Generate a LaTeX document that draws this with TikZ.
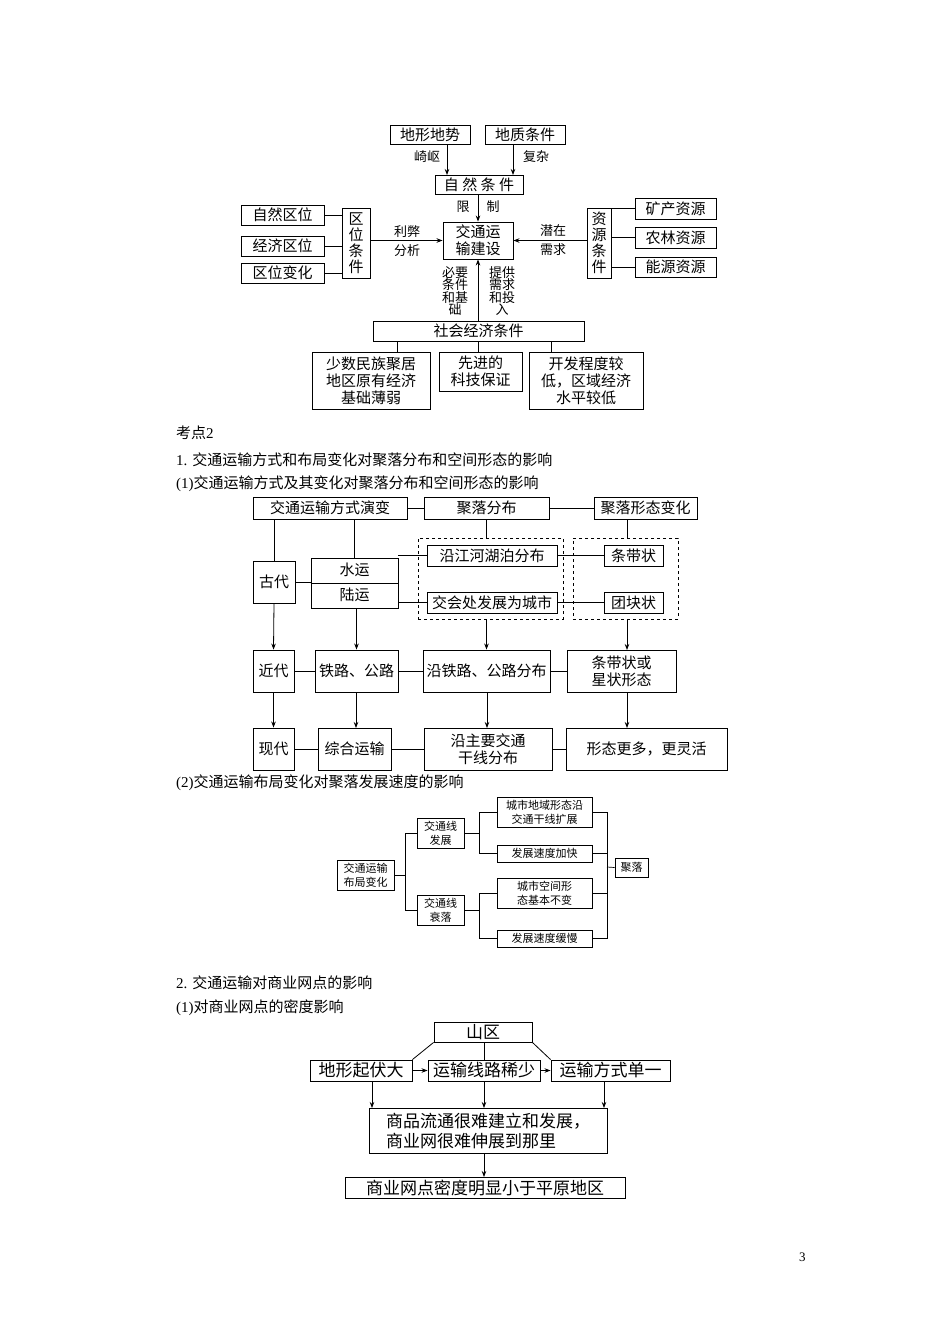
\documentclass[tikz,border=0pt]{standalone}
\usepackage{fontspec}
\setmainfont{Noto Sans CJK SC}
\newfontfamily\lat{Liberation Serif}
\usetikzlibrary{arrows.meta}
\tikzset{
  bx/.style={draw,line width=0.9pt,inner sep=0pt,align=center},
  dbox/.style={draw,dashed,line width=0.8pt,inner sep=0pt},
  ln/.style={line width=0.8pt},
  ar/.style={line width=0.8pt,-{Stealth[length=6pt,width=4.5pt]}},
  lbl/.style={inner sep=0pt,align=center,font=\fontsize{13}{14}\selectfont},
  hd/.style={anchor=west,inner sep=0pt,font=\fontsize{15}{17}\selectfont}
}
\newcommand\bx[7][]{\node[bx,minimum width={(#5-#3)*1pt},minimum height={(#6-#4)*1pt},#1] (#2) at ({(#3+#5)/2},{(#4+#6)/2}) {#7};}
\begin{document}
\begin{tikzpicture}[x=1pt,y=-1pt]
\useasboundingbox (0,0) rectangle (950,1344);
% ---------- Diagram 1
\begin{scope}[font=\fontsize{15}{17}\selectfont]
\bx{dx}{390}{125}{470}{144}{地形地势}
\bx{dz}{485}{125}{565}{144}{地质条件}
\bx{zr}{435}{175}{523}{194}{自 然 条 件}
\bx{jt}{443}{222}{513}{259}{交通运\\输建设}
\bx{q1}{241}{205}{324}{225}{自然区位}
\bx{q2}{241}{236}{324}{256}{经济区位}
\bx{q3}{241}{263}{324}{283}{区位变化}
\bx[font=\fontsize{15}{16}\selectfont]{qw}{342}{208}{370}{278}{区\\位\\条\\件}
\bx[font=\fontsize{15}{16}\selectfont]{zy}{587}{208}{611}{278}{资\\源\\条\\件}
\bx{r1}{635}{198}{716}{219}{矿产资源}
\bx{r2}{635}{227}{716}{248}{农林资源}
\bx{r3}{635}{257}{716}{277}{能源资源}
\bx{sh}{373}{321}{584}{341}{社会经济条件}
\bx{b1}{312}{352}{430}{409}{少数民族聚居\\地区原有经济\\基础薄弱}
\bx{b2}{439}{352}{522}{391}{先进的\\科技保证}
\bx{b3}{529}{352}{643}{409}{开发程度较\\低，区域经济\\水平较低}
\end{scope}
\draw[ar] (dx.south -| 447,0) -- (447,175);
\draw[ar] (dz.south -| 513,0) -- (513,175);
\node[lbl] at (427,157) {崎岖};
\node[lbl] at (536,157) {复杂};
\draw[ar] (zr.south -| jt.north) -- (jt.north);
\node[lbl] at (463,207) {限};
\node[lbl] at (493,207) {制};
\foreach \n in {q1,q2,q3} \draw[ln] (\n.east) -- (\n.east -| qw.west);
\foreach \n in {r1,r2,r3} \draw[ln] (\n.west) -- (\n.west -| zy.east);
\draw[ar] (qw.east |- jt.west) -- (jt.west);
\node[lbl] at (407,232) {利弊};
\node[lbl] at (407,251) {分析};
\draw[ar] (zy.west |- jt.east) -- (jt.east);
\node[lbl] at (553,231) {潜在};
\node[lbl] at (553,250) {需求};
\draw[ar] (sh.north -| jt.south) -- (jt.south);
\node[lbl,font=\fontsize{13}{12.5}\selectfont,anchor=north] at (455,266) {必要\\条件\\和基\\础};
\node[lbl,font=\fontsize{13}{12.5}\selectfont,anchor=north] at (502,266) {提供\\需求\\和投\\入};
\draw[ln] (sh.south -| 397,0) -- (397,352);
\draw[ln] (sh.south -| 478,0) -- (478,352);
\draw[ln] (sh.south -| 551,0) -- (551,352);
% ---------- Headings
\node[hd] (t1) at (176,433) {考点{\lat 2}};
\node[hd] (t2) at (176,460) {{\lat 1. }交通运输方式和布局变化对聚落分布和空间形态的影响};
\node[hd] (t3) at (176,484) {{\lat (1)}交通运输方式及其变化对聚落分布和空间形态的影响};
\node[hd] (t4) at (176,783) {{\lat (2)}交通运输布局变化对聚落发展速度的影响};
\node[hd] (t5) at (176,983) {{\lat 2. }交通运输对商业网点的影响};
\node[hd] (t6) at (176,1008) {{\lat (1)}对商业网点的密度影响};
\node[hd,font=\fontsize{13}{15}\selectfont\lat] (pg) at (799,1257) {3};
% ---------- Diagram 2
\node[dbox,minimum width=145pt,minimum height=81pt] (d1) at (490.5,578.5) {};
\node[dbox,minimum width=105pt,minimum height=81pt] (d2) at (625.5,578.5) {};
\begin{scope}[font=\fontsize{15}{17}\selectfont]
\bx{h1}{253}{497}{407}{519}{交通运输方式演变}
\bx{h2}{424}{497}{549}{519}{聚落分布}
\bx{h3}{594}{497}{697}{519}{聚落形态变化}
\bx{gd}{253}{561}{295}{603}{古代}
\bx{sy}{311}{558}{398}{608}{}
\bx[fill=white]{yj}{427}{545}{557}{566}{沿江河湖泊分布}
\bx[fill=white]{jh}{427}{592}{557}{613}{交会处发展为城市}
\bx[fill=white]{td}{604}{545}{663}{566}{条带状}
\bx[fill=white]{tk}{604}{592}{663}{613}{团块状}
\bx{jd}{253}{650}{294}{692}{近代}
\bx{tl}{315}{650}{398}{692}{铁路、公路}
\bx{yt}{423}{650}{550}{692}{沿铁路、公路分布}
\bx{xz}{567}{650}{676}{692}{条带状或\\星状形态}
\bx{xd}{253}{728}{294}{770}{现代}
\bx{zh}{318}{728}{391}{770}{综合运输}
\bx{yz}{424}{728}{552}{770}{沿主要交通\\干线分布}
\bx{xt}{566}{728}{727}{770}{形态更多，更灵活}
\node (sw) at (354.5,570) {水运};
\node (sl) at (354.5,595) {陆运};
\end{scope}
\draw[ln] (sy.west |- 0,583) -- (sy.east |- 0,583);
\draw[ln] (h1.east) -- (h2.west);
\draw[ln] (h2.east) -- (h3.west);
\draw[ln] (h1.south -| gd.north) -- (gd.north);
\draw[ln] (h1.south -| sy.north) -- (sy.north);
\draw[ln] (h2.south) -- (h2.south |- d1.north);
\draw[ln] (h3.south -| 627,0) -- (627,538);
\draw[ln] (gd.east) -- (gd.east -| sy.west);
\draw[ln] (yj.west -| sy.east) -- (yj.west);
\draw[ln] (jh.west -| sy.east) -- (jh.west);
\draw[ln] (yj.east) -- (td.west);
\draw[ln] (jh.east) -- (tk.west);
\draw[ar] (gd.south) -- (jd.north);
\draw[ar] (sy.south -| tl.north) -- (tl.north);
\draw[ar] (d1.south -| yt.north) -- (yt.north);
\draw[ar] (d2.south -| 627,0) -- (627,650);
\draw[ar] (jd.south) -- (xd.north);
\draw[ar] (tl.south -| 356,0) -- (356,728);
\draw[ar] (yt.south -| 487,0) -- (487,728);
\draw[ar] (xz.south -| 627,0) -- (627,728);
\draw[ln] (jd.east) -- (tl.west);
\draw[ln] (tl.east) -- (yt.west);
\draw[ln] (yt.east) -- (xz.west);
\draw[ln] (xd.east) -- (zh.west);
\draw[ln] (zh.east) -- (yz.west);
\draw[ln] (yz.east) -- (xt.west);
% ---------- Diagram 3
\begin{scope}[font=\fontsize{11}{14}\selectfont]
\bx[line width=0.7pt]{bj}{337}{860}{394}{890}{交通运输\\布局变化}
\bx[line width=0.7pt]{fz}{417}{818}{464}{848}{交通线\\发展}
\bx[line width=0.7pt]{sl2}{417}{895}{464}{925}{交通线\\衰落}
\bx[line width=0.7pt]{c1}{497}{797}{592}{827}{城市地域形态沿\\交通干线扩展}
\bx[line width=0.7pt]{c2}{497}{845}{592}{862}{发展速度加快}
\bx[line width=0.7pt]{c3}{497}{878}{592}{908}{城市空间形\\态基本不变}
\bx[line width=0.7pt]{c4}{497}{930}{592}{947}{发展速度缓慢}
\bx[line width=0.7pt]{jl}{615}{858}{648}{877}{聚落}
\end{scope}
\coordinate (p1) at (405,875);
\coordinate (p2) at (479,833);
\coordinate (p3) at (479,910);
\coordinate (p4) at (607,867);
\draw[line width=0.7pt] (bj.east) -- (p1) (fz.west -| p1) -- (sl2.west -| p1);
\draw[line width=0.7pt] (fz.west -| p1) -- (fz.west) (sl2.west -| p1) -- (sl2.west);
\draw[line width=0.7pt] (fz.east) -- (p2) (c1.west -| p2) -- (c2.west -| p2);
\draw[line width=0.7pt] (c1.west -| p2) -- (c1.west) (c2.west -| p2) -- (c2.west);
\draw[line width=0.7pt] (sl2.east) -- (p3) (c3.west -| p3) -- (c4.west -| p3);
\draw[line width=0.7pt] (c3.west -| p3) -- (c3.west) (c4.west -| p3) -- (c4.west);
\draw[line width=0.7pt] (c1.east) -- (c1.east -| p4) -- (c4.east -| p4) -- (c4.east);
\draw[line width=0.7pt] (c2.east) -- (c2.east -| p4) (c3.east) -- (c3.east -| p4);
\draw[line width=0.7pt] (p4) -- (jl.west);
% ---------- Diagram 4
\begin{scope}[font=\fontsize{17}{20}\selectfont]
\bx{sq}{434}{1022}{532}{1042}{山区}
\bx{dq}{310}{1060}{412}{1081}{地形起伏大}
\bx{xs}{428}{1060}{540}{1081}{运输线路稀少}
\bx{fs}{551}{1060}{670}{1081}{运输方式单一}
\bx[align=left]{sp}{369}{1108}{607}{1153}{商品流通很难建立和发展，\\商业网很难伸展到那里}
\bx{wd}{345}{1177}{625}{1198}{商业网点密度明显小于平原地区}
\end{scope}
\draw[ln] (sq.south west) -- (dq.north east);
\draw[ln] (sq.south east) -- (fs.north west);
\draw[ln] (sq.south -| xs.north) -- (xs.north);
\draw[ar] (dq.east) -- (xs.west);
\draw[ar] (xs.east) -- (fs.west);
\draw[ar] (dq.south -| 372,0) -- (372,1108);
\draw[ar] (xs.south -| 484,0) -- (484,1108);
\draw[ar] (fs.south -| 604,0) -- (604,1108);
\draw[ar] (sp.south -| 484,0) -- (484,1177);
\end{tikzpicture}
\end{document}
